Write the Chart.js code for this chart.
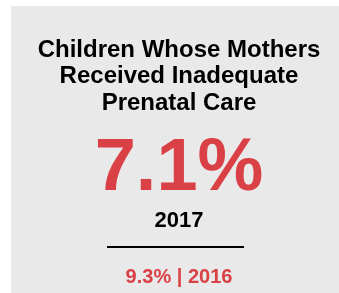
<!DOCTYPE html>
<html>
<head>
<meta charset="utf-8">
<script src="https://cdn.jsdelivr.net/npm/chart.js@4"></script>
<style>
  html, body { margin: 0; padding: 0; background: #fff; }
  #card { display: block; }
</style>
</head>
<body>
<canvas id="card" width="339" height="293"></canvas>
<script>
// indicator data
var titleLines = ['Children Whose Mothers', 'Received Inadequate', 'Prenatal Care'];
var years = ['2016', '2017'];
var rates = [9.3, 7.1];

var RED = '#d94146';
var FONT = '"Liberation Sans", Arial, Helvetica, sans-serif';

// draws the gray card and the headline number under the title
var statPlugin = {
  id: 'stat',
  beforeDraw: function (chart) {
    var ctx = chart.ctx;
    ctx.save();
    ctx.fillStyle = '#e9e9e9';
    ctx.fillRect(11, 6, chart.width - 11, chart.height - 6);
    ctx.restore();
  },
  afterDraw: function (chart) {
    var ctx = chart.ctx;
    var cx = 179;
    var last = rates.length - 1;
    ctx.save();
    ctx.textAlign = 'center';
    ctx.textBaseline = 'alphabetic';

    ctx.fillStyle = RED;
    ctx.font = 'bold 74px ' + FONT;
    ctx.fillText(rates[last].toFixed(1) + '%', cx, 190);

    ctx.fillStyle = '#000';
    ctx.font = 'bold 22px ' + FONT;
    ctx.fillText(years[last], cx, 227);

    ctx.strokeStyle = '#000';
    ctx.lineWidth = 2;
    ctx.beginPath();
    ctx.moveTo(107, 247);
    ctx.lineTo(244, 247);
    ctx.stroke();

    ctx.fillStyle = RED;
    ctx.font = 'bold 20px ' + FONT;
    ctx.fillText(rates[last - 1].toFixed(1) + '% | ' + years[last - 1], cx, 283);
    ctx.restore();
  }
};

new Chart(document.getElementById('card'), {
  type: 'bar',
  data: { labels: [], datasets: [] },
  options: {
    responsive: false,
    animation: false,
    layout: { padding: { left: 19, right: 0, top: 0, bottom: 0 } },
    scales: { x: { display: false }, y: { display: false } },
    plugins: {
      legend: { display: false },
      tooltip: { enabled: false },
      title: {
        display: true,
        text: titleLines,
        color: '#000',
        font: { family: FONT, size: 24, weight: 'bold', lineHeight: 1.1 },
        padding: { top: 37, bottom: 0 }
      }
    }
  },
  plugins: [statPlugin]
});
</script>
</body>
</html>
